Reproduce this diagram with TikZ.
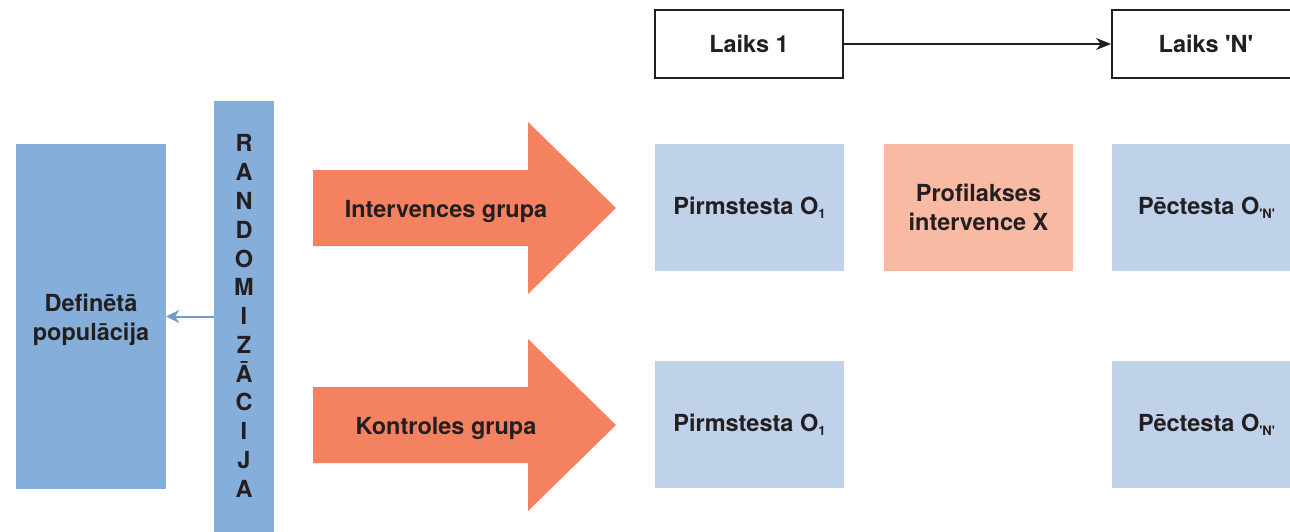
\documentclass[tikz,border=0pt]{standalone}
\usepackage{fontspec}
\setmainfont{TeX Gyre Heros}
\usetikzlibrary{arrows.meta}
\definecolor{popblue}{HTML}{86AEDA}
\definecolor{lineblue}{HTML}{6F9DD3}
\definecolor{lightblue}{HTML}{C0D1EA}
\definecolor{arrorange}{HTML}{F4815F}
\definecolor{lightorange}{HTML}{F8BAA2}
\definecolor{txt}{HTML}{231F20}
\newcommand\subtxt[1]{\raisebox{-4pt}{\fontsize{13}{13}\selectfont #1}}
\newcommand\qN{\textquotesingle N\textquotesingle}
\tikzset{
  lbl/.style={font=\bfseries\fontsize{23.5}{29}\selectfont, text=txt, align=center, inner sep=0pt},
  popbox/.style={fill=popblue, inner sep=0pt, lbl},
  obsbox/.style={fill=lightblue, minimum width=189, minimum height=127, inner sep=0pt, lbl},
  intbox/.style={fill=lightorange, minimum width=189, minimum height=127, inner sep=0pt, lbl},
  timebox/.style={draw=txt, line width=2pt, fill=white, minimum width=188, minimum height=68, inner sep=0pt, lbl},
  grouparrow/.style={fill=arrorange},
  letter/.style={lbl, anchor=base}
}
\begin{document}
\begin{tikzpicture}[x=1pt,y=-1pt]
\useasboundingbox (0,0) rectangle (1290,532);
\clip (0,0) rectangle (1290,532);

% population and randomisation
\node[popbox, minimum width=150, minimum height=345] (pop) at (91,316.5) {};
\node[lbl] (poptxt) at (91,320) {Definētā\\populācija};
\node[popbox, minimum width=60, minimum height=431] (bar) at (244,316.5) {};
\foreach \l [count=\i] in {R,A,N,D,O,M,I,Z,Ā,C,I,J,A}
  \node[letter] (r\i) at (244,{152+(\i-1)*28.75}) {\l};
\draw[lineblue, line width=2pt, -{Stealth[length=13pt,width=13pt,inset=4pt]}] (bar) -- (pop);

% group arrows
\fill[grouparrow] (313,170) -- (528,170) -- (528,122) -- (616,208) -- (528,294) -- (528,246) -- (313,246) -- cycle;
\fill[grouparrow] (313,387) -- (528,387) -- (528,339) -- (616,425) -- (528,511) -- (528,463) -- (313,463) -- cycle;
\node[lbl, anchor=base] (igrp) at (446,217) {Intervences grupa};
\node[lbl, anchor=base] (kgrp) at (446,434) {Kontroles grupa};

% time boxes
\node[timebox] (t1) at (749,44) {Laiks 1};
\node[timebox] (tn) at (1206,44) {Laiks \qN};
\draw[txt, line width=2pt, -{Stealth[length=15pt,width=12pt]}] (t1) -- (tn);

% observation boxes
\node[obsbox] (pre1) at (749.5,207.5) {Pirmstesta O\subtxt{1}};
\node[intbox] (intx) at (978.5,207.5) {Profilakses\\intervence X};
\node[obsbox] (post1) at (1206.5,207.5) {Pēctesta O\subtxt{\qN}};
\node[obsbox] (pre2) at (749.5,424.5) {Pirmstesta O\subtxt{1}};
\node[obsbox] (post2) at (1206.5,424.5) {Pēctesta O\subtxt{\qN}};
\end{tikzpicture}
\end{document}
